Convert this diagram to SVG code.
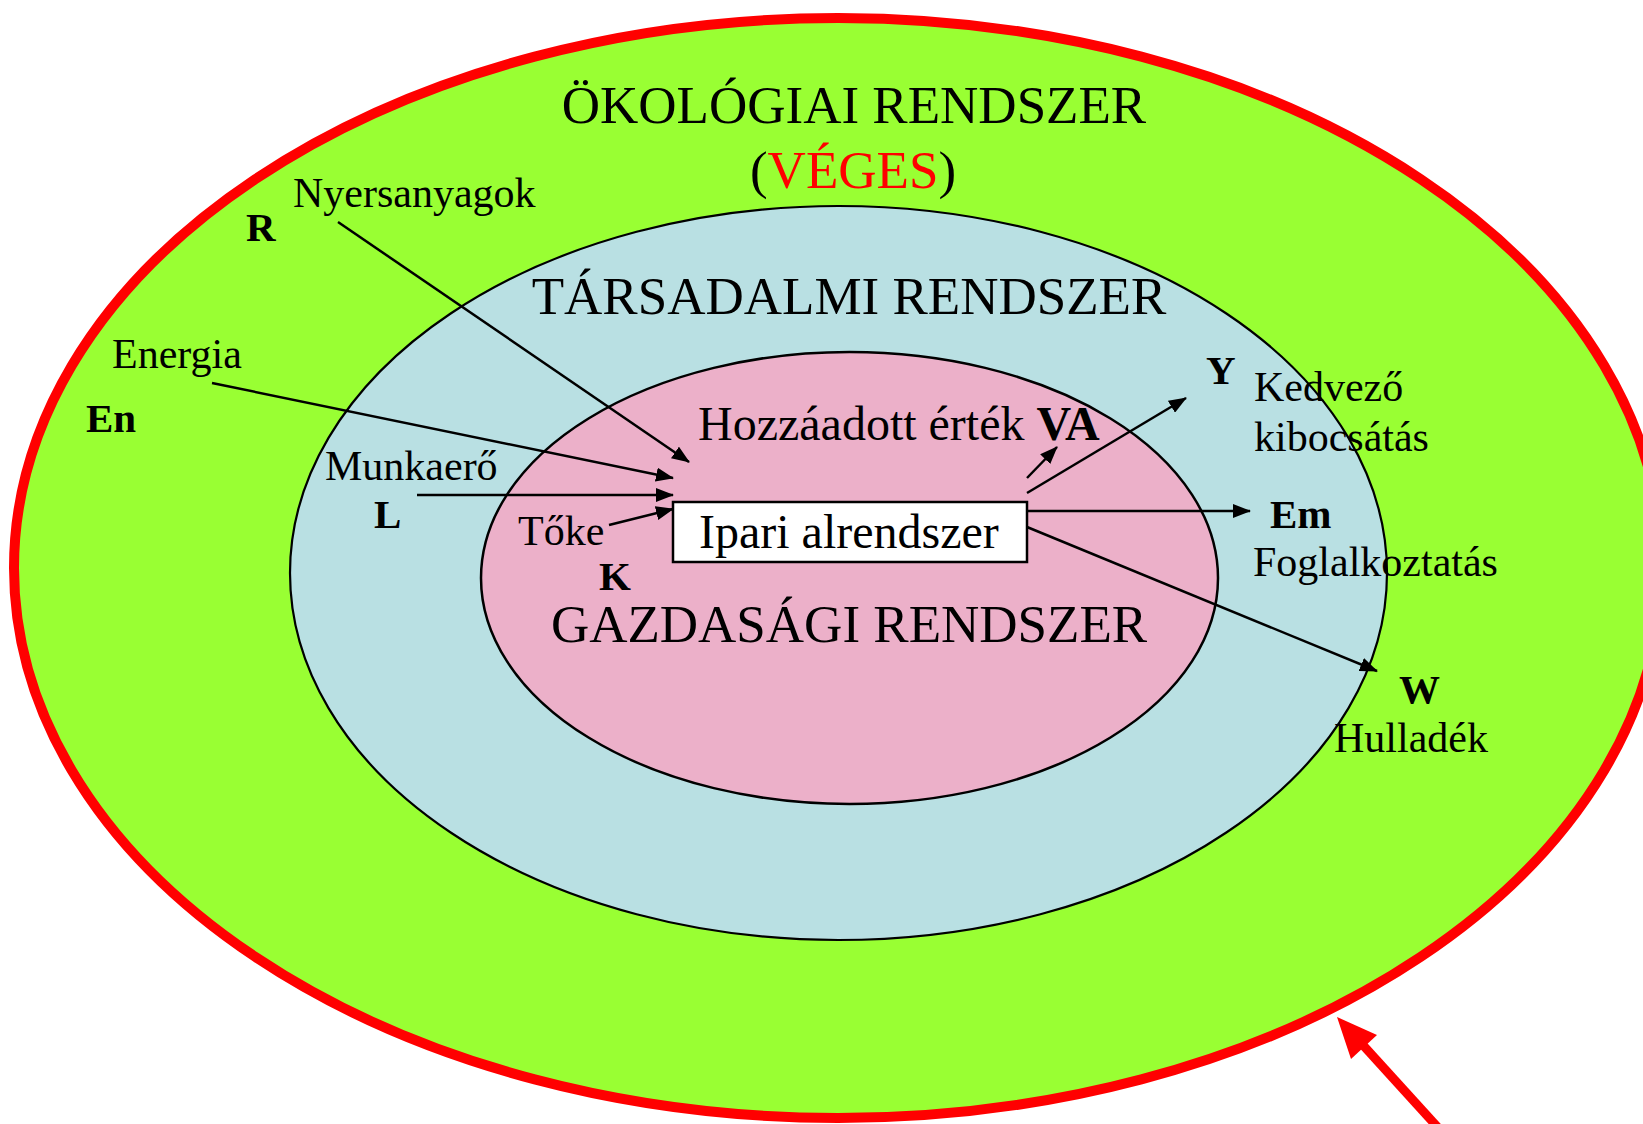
<svg xmlns="http://www.w3.org/2000/svg" width="1643" height="1124" viewBox="0 0 1643 1124">
<style>
text{font-family:"Liberation Serif","Times New Roman",serif;fill:#000}
.title{font-size:53px;text-anchor:middle}
.lbl{font-size:42px}
.big{font-size:48px}
.b{font-size:41px;font-weight:bold}
.conn{stroke:#000;stroke-width:2.5;fill:none}
</style>
<defs>
<marker id="ah" markerUnits="userSpaceOnUse" markerWidth="18" markerHeight="14" refX="17" refY="7" orient="auto"><path d="M0,0 L18,7 L0,14 z" fill="#000"/></marker>
</defs>
<g id="okologiai">
<ellipse cx="838" cy="568" rx="824" ry="550" fill="#99FF33" stroke="#FF0000" stroke-width="10"/>
<text class="title" x="854" y="123">ÖKOLÓGIAI RENDSZER</text>
<text class="title" x="853" y="188">(<tspan fill="#FF0000">VÉGES</tspan>)</text>
</g>
<g id="tarsadalmi">
<ellipse cx="838.5" cy="573" rx="548.5" ry="367" fill="#B9E0E3" stroke="#000" stroke-width="2.2"/>
<text class="title" x="849" y="314">TÁRSADALMI RENDSZER</text>
</g>
<g id="gazdasagi">
<ellipse cx="849.5" cy="578" rx="368.5" ry="226" fill="#ECB0C9" stroke="#000" stroke-width="2.5"/>
<text class="title" x="849" y="642">GAZDASÁGI RENDSZER</text>
<text class="big" x="698" y="440">Hozzáadott érték <tspan font-weight="bold">VA</tspan></text>
</g>
<g id="ipari">
<rect x="673" y="502" width="354" height="60" fill="#FFFFFF" stroke="#000" stroke-width="2.5"/>
<text class="big" x="699" y="548">Ipari alrendszer</text>
</g>
<g id="labels">
<text class="lbl" x="293" y="207">Nyersanyagok</text>
<text class="b" x="246" y="241">R</text>
<text class="lbl" x="112" y="368">Energia</text>
<text class="b" x="86" y="432">En</text>
<text class="lbl" x="325" y="480">Munkaerő</text>
<text class="b" x="374" y="528">L</text>
<text class="lbl" x="518" y="545">Tőke</text>
<text class="b" x="599" y="590">K</text>
<text class="b" x="1206" y="384">Y</text>
<text class="lbl" x="1254" y="401">Kedvező</text>
<text class="lbl" x="1254" y="451">kibocsátás</text>
<text class="b" x="1270" y="528">Em</text>
<text class="lbl" x="1253" y="576">Foglalkoztatás</text>
<text class="b" x="1399" y="703">W</text>
<text class="lbl" x="1334" y="752">Hulladék</text>
</g>
<g id="connectors">
<line class="conn" x1="338" y1="222" x2="689" y2="462" marker-end="url(#ah)"/>
<line class="conn" x1="212" y1="383" x2="673" y2="478" marker-end="url(#ah)"/>
<line class="conn" x1="417" y1="495" x2="673" y2="495" marker-end="url(#ah)"/>
<line class="conn" x1="609" y1="525" x2="673" y2="509" marker-end="url(#ah)"/>
<line class="conn" x1="1027" y1="478" x2="1057" y2="447" marker-end="url(#ah)"/>
<line class="conn" x1="1027" y1="493" x2="1186" y2="398" marker-end="url(#ah)"/>
<line class="conn" x1="1027" y1="511" x2="1250" y2="511" marker-end="url(#ah)"/>
<line class="conn" x1="1027" y1="527" x2="1377" y2="671" marker-end="url(#ah)"/>
<line x1="1442" y1="1132" x2="1362" y2="1044" stroke="#FF0000" stroke-width="9"/>
<polygon points="1337,1017 1377,1035 1351,1059" fill="#FF0000"/>
</g>
</svg>
